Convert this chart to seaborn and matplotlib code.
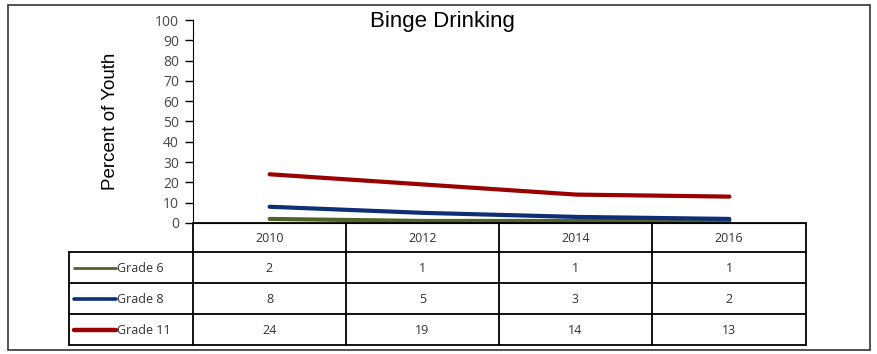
import matplotlib as mpl
import matplotlib.pyplot as plt
import pandas as pd
import seaborn as sns
from matplotlib.patches import Rectangle

years = ["2010", "2012", "2014", "2016"]
grades = ["Grade 6", "Grade 8", "Grade 11"]
grade6 = [2, 1, 1, 1]
grade8 = [8, 5, 3, 2]
grade11 = [24, 19, 14, 13]
colors = ["#4f6228", "#0e2f75", "#9a0000"]

df = pd.DataFrame({"year": years * 3,
                   "grade": [g for g in grades for _ in years],
                   "pct": grade6 + grade8 + grade11})

sns.set_style("white")
mpl.rcParams['font.family'] = ['Open Sans', 'DejaVu Sans']

W, H = 877, 354
fig = plt.figure(figsize=(W / 100, H / 100), dpi=100)

def fx(px):
    return px / W

def fy(py):
    return 1 - py / H

# outer frame
fig.patches.append(Rectangle((fx(8), fy(350)), fx(862), 345 / H, transform=fig.transFigure,
                             fill=False, ec="#333333", lw=1.2))

x0, x1, y0, y1 = 193, 806, 223, 20
ax = fig.add_axes([fx(x0), fy(y0), fx(x1 - x0), (y0 - y1) / H])
sns.lineplot(data=df, x="year", y="pct", hue="grade", palette=colors, lw=3,
             legend=False, ax=ax, solid_capstyle="round")
ax.set_xlim(-0.5, 3.5)
ax.set_ylim(0, 100)
ax.set_yticks(range(0, 101, 10))
ax.set_xticks([])
ax.set_xlabel("")
ax.set_ylabel("Percent of Youth", fontsize=13.5, family=["Liberation Sans"], color="black")
ax.yaxis.set_label_coords((119 - x0) / (x1 - x0), 0.5)
for s in ["top", "right"]:
    ax.spines[s].set_visible(False)
ax.spines["left"].set_color("black")
ax.spines["bottom"].set_color("black")
ax.tick_params(axis="y", direction="out", length=6, width=1, color="black",
               labelsize=10, labelcolor="#474747", left=True, pad=4)
fig.text(fx(442), fy(22), "Binge Drinking", ha="center", va="center", fontsize=16,
         family=["Liberation Sans"], color="black")

# data table
tb = fig.add_axes([0, 0, 1, 1], facecolor="none")
tb.set_xlim(0, W)
tb.set_ylim(H, 0)
tb.axis("off")
col_edges = [193, 346, 499, 652, 806]
row_edges = [223, 252, 283, 314, 345]
left = 69
lw = 1.3
# horizontal lines
tb.plot([col_edges[0], col_edges[-1]], [row_edges[0]] * 2, color="black", lw=lw)
for r in row_edges[1:]:
    tb.plot([left, col_edges[-1]], [r, r], color="black", lw=lw)
for c in col_edges:
    tb.plot([c, c], [row_edges[0], row_edges[-1]], color="black", lw=lw)
tb.plot([left, left], [row_edges[1], row_edges[-1]], color="black", lw=lw)

for j, yr in enumerate(years):
    xc = (col_edges[j] + col_edges[j + 1]) / 2
    tb.text(xc, (row_edges[0] + row_edges[1]) / 2 + 1, yr, ha="center", va="center",
            fontsize=9, color="#333333")
values = [grade6, grade8, grade11]
for i, (g, vals, c) in enumerate(zip(grades, values, colors)):
    yc = (row_edges[i + 1] + row_edges[i + 2]) / 2
    tb.plot([74, 116], [yc, yc], color=c, lw=2 + i * 0.6, solid_capstyle="round")
    tb.text(117, yc + 1, g, ha="left", va="center", fontsize=9, color="#333333")
    for j, v in enumerate(vals):
        xc = (col_edges[j] + col_edges[j + 1]) / 2
        tb.text(xc, yc + 1, str(v), ha="center", va="center", fontsize=9, color="#333333")

fig.savefig("out.png", dpi=100)
